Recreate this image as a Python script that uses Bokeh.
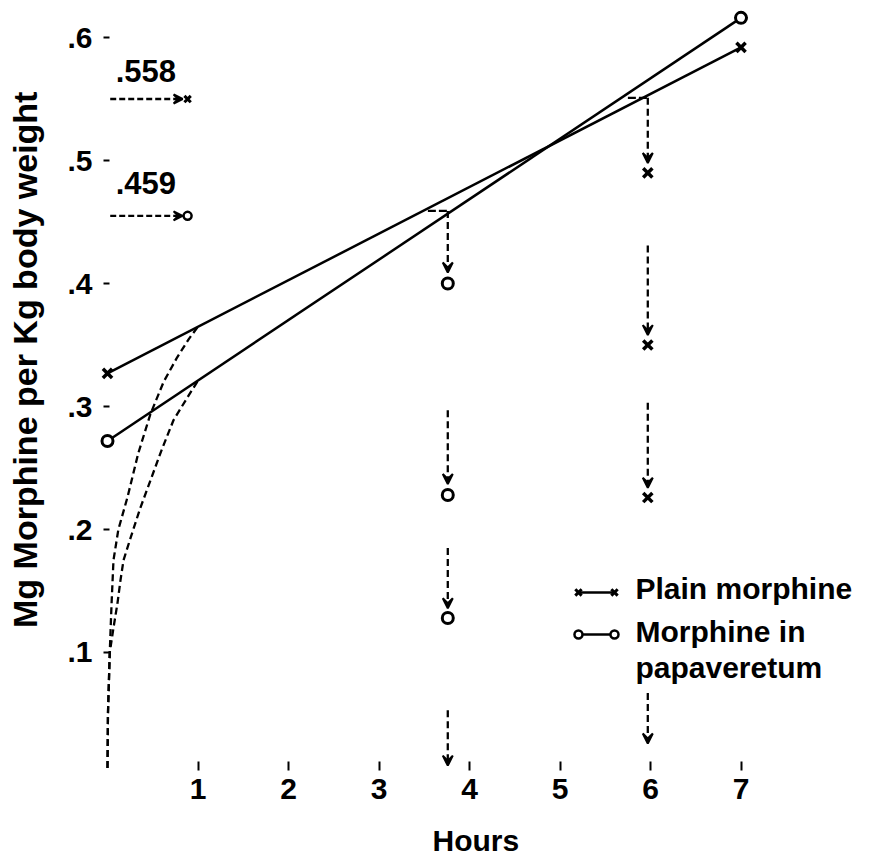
import numpy as np
from bokeh.plotting import figure
from bokeh.models import ColumnDataSource, Arrow, VeeHead, FixedTicker, Range1d
from bokeh.core.properties import value
from bokeh.embed import file_html
from bokeh.resources import INLINE

FONT = "Liberation Sans"

# ---------------- data ----------------
x_ticks = [1, 2, 3, 4, 5, 6, 7]
y_ticks = [0.1, 0.2, 0.3, 0.4, 0.5, 0.6]
y_tick_labels = [".1", ".2", ".3", ".4", ".5", ".6"]

# fitted straight lines
plain_hours = [0, 7]
plain_mg = [0.327, 0.592]
papav_hours = [0, 7]
papav_mg = [0.272, 0.616]

# dashed absorption curves
plain_curve_hours = [0.0, 0.005, 0.025, 0.045, 0.066, 0.12, 0.22, 0.34, 0.475, 0.62, 0.77, 0.90, 1.0]
plain_curve_mg = [0.006, 0.05, 0.10, 0.14, 0.175, 0.200, 0.226, 0.262, 0.294, 0.320, 0.340, 0.355, 0.365]
papav_curve_hours = [0.0, 0.005, 0.025, 0.066, 0.11, 0.144, 0.177, 0.254, 0.36, 0.475, 0.60, 0.73, 0.88, 1.0]
papav_curve_mg = [0.006, 0.05, 0.10, 0.12, 0.14, 0.159, 0.175, 0.193, 0.217, 0.240, 0.265, 0.289, 0.307, 0.321]

# vertical dropping readings
papav_drop_hour = 3.76
papav_drop_from = [0.459, 0.297, 0.185, 0.053]
papav_drop_to = [0.409, 0.237, 0.136, 0.008]
papav_drop_points = [0.400, 0.228, 0.128]

plain_drop_hour = 5.97
plain_drop_from = [0.551, 0.431, 0.303, 0.067]
plain_drop_to = [0.498, 0.358, 0.234, 0.026]
plain_drop_points = [0.490, 0.350, 0.226]

# short horizontal hooks between the two lines
hook_y = [0.459, 0.551]
hook_x0 = [3.54, 5.75]
hook_x1 = [3.76, 5.97]

# reference levels (top-left)
ref_labels = [".558", ".459"]
ref_arrow_y = [0.550, 0.455]

legend_labels = ["Plain morphine", "Morphine in", "papaveretum"]
x_title = "Hours"
y_title = "Mg Morphine per Kg body weight"

# ---------------- figure ----------------
# frame fills the whole canvas; axes are pinned at fixed data locations
p = figure(width=874, height=859, output_backend="svg", toolbar_location=None,
           x_range=Range1d(-1.1823, 8.475), y_range=Range1d(-0.0683, 0.6301),
           min_border_left=0, min_border_right=0, min_border_top=0, min_border_bottom=0)
p.outline_line_color = None
p.xgrid.visible = False
p.ygrid.visible = False
p.background_fill_color = "white"
p.border_fill_color = "white"

for ax in (p.xaxis[0], p.yaxis[0]):
    ax.axis_line_color = None
    ax.minor_tick_line_color = None
    ax.major_tick_out = 0
    ax.major_tick_line_width = 2
    ax.major_tick_line_color = "black"
    ax.major_label_text_font = FONT
    ax.major_label_text_font_style = "bold"
    ax.major_label_text_font_size = "30px"
    ax.major_label_text_color = "black"

p.xaxis.fixed_location = 0.004
p.xaxis.ticker = FixedTicker(ticks=x_ticks)
p.xaxis.major_tick_in = 9
p.xaxis.major_label_standoff = 8
p.yaxis.fixed_location = -0.0442
p.yaxis.ticker = FixedTicker(ticks=y_ticks)
p.yaxis.major_label_overrides = {t: l for t, l in zip(y_ticks, y_tick_labels)}
p.yaxis.major_tick_in = 6
p.yaxis.major_label_standoff = 11

# axis titles
p.text(x=[-0.917], y=[0.338], text=[y_title], angle=np.pi / 2, text_font=value(FONT),
       text_font_style="bold", text_font_size="34px", text_color="black",
       text_align="center", text_baseline="middle")
p.text(x=[4.07], y=[-0.0528], text=[x_title], text_font=value(FONT),
       text_font_style="bold", text_font_size="30px", text_color="black",
       text_align="center", text_baseline="middle")

# straight lines
p.line(plain_hours, plain_mg, line_color="black", line_width=2.5)
p.line(papav_hours, papav_mg, line_color="black", line_width=2.5)

# dashed curves
p.line(plain_curve_hours, plain_curve_mg, line_color="black", line_width=2.3, line_dash="7 4")
p.line(papav_curve_hours, papav_curve_mg, line_color="black", line_width=2.3, line_dash="7 4")

# hooks
p.segment(x0=hook_x0, y0=hook_y, x1=hook_x1, y1=hook_y, line_color="black", line_width=2.3, line_dash="8 3")

# dropping arrows
arr_x = [papav_drop_hour] * len(papav_drop_from) + [plain_drop_hour] * len(plain_drop_from)
arr_src = ColumnDataSource(dict(
    x0=arr_x, x1=arr_x,
    y0=papav_drop_from + plain_drop_from,
    y1=papav_drop_to + plain_drop_to))
p.add_layout(Arrow(x_start="x0", y_start="y0", x_end="x1", y_end="y1", source=arr_src,
                   line_color="black", line_width=2.3, line_dash="7 4",
                   end=VeeHead(size=10, line_width=2, line_color="black", fill_color="black")))

# reference arrows (top-left)
ref_src = ColumnDataSource(dict(x0=[0.03] * 2, x1=[0.83] * 2, y0=ref_arrow_y, y1=ref_arrow_y))
p.add_layout(Arrow(x_start="x0", y_start="y0", x_end="x1", y_end="y1", source=ref_src,
                   line_color="black", line_width=2.3, line_dash="6 3",
                   end=VeeHead(size=9, line_width=2, line_color="black", fill_color="black")))
p.text(x=[0.09, 0.09], y=[0.5724, 0.4817], text=ref_labels, text_font=value(FONT),
       text_font_style="bold", text_font_size="31px", text_color="black",
       text_baseline="middle", text_align="left")
p.scatter(x=[0.885], y=[ref_arrow_y[0]], marker="x", size=9, line_width=3, line_color="black")
p.scatter(x=[0.885], y=[ref_arrow_y[1]], marker="circle", size=8, line_width=2.5,
          line_color="black", fill_color="white")

# markers: plain morphine (x)
px = [plain_hours[0], plain_hours[1]] + [plain_drop_hour] * len(plain_drop_points)
py = [plain_mg[0], plain_mg[1]] + plain_drop_points
p.scatter(x=px, y=py, marker="x", size=13, line_width=3.5, line_color="black")
# markers: papaveretum (o)
ox = [papav_hours[0], papav_hours[1]] + [papav_drop_hour] * len(papav_drop_points)
oy = [papav_mg[0], papav_mg[1]] + papav_drop_points
p.scatter(x=ox, y=oy, marker="circle", size=11, line_width=3, line_color="black", fill_color="white")

# legend (hand made)
leg_y = [0.1488, 0.1146]
p.segment(x0=[5.204, 5.204], y0=leg_y, x1=[5.602, 5.602], y1=leg_y, line_color="black", line_width=2.5)
p.scatter(x=[5.204, 5.602], y=[leg_y[0]] * 2, marker="x", size=9, line_width=3, line_color="black")
p.scatter(x=[5.204, 5.602], y=[leg_y[1]] * 2, marker="circle", size=8, line_width=2.5,
          line_color="black", fill_color="white")
p.text(x=[5.834] * 3, y=[0.1520, 0.1171, 0.0878], text=legend_labels, text_font=value(FONT),
       text_font_style="bold", text_font_size="30px", text_color="black",
       text_baseline="middle", text_align="left")

open("out.html", "w").write(file_html(p, INLINE))
